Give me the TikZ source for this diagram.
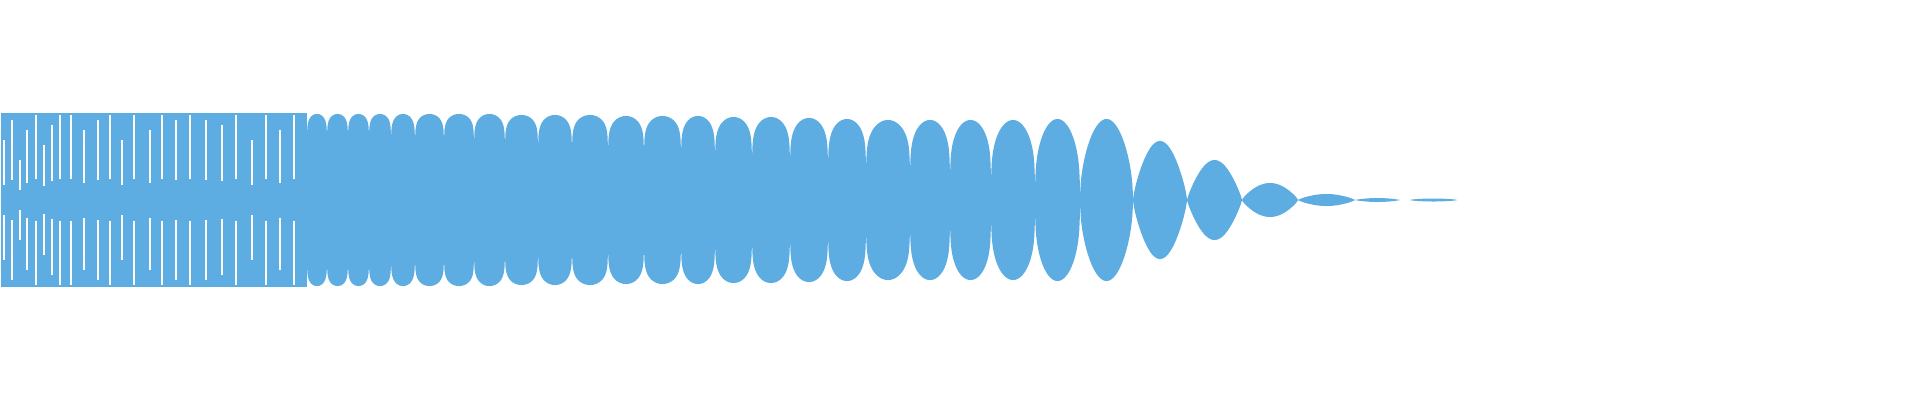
\documentclass[tikz,border=0pt]{standalone}
\definecolor{wave}{RGB}{93,173,226}
\begin{document}
\begin{tikzpicture}[x=1pt,y=-1pt]
\useasboundingbox (0,0) rectangle (1920,400);
% dense noisy start
\fill[wave] (1,113) rectangle (307,287);
\foreach \g/\h in {4/60,12/80,20/40,27/70,36/85,44/55,52/75,60/85,71/85,84/70,98/80,110/85,122/60,134/85,150/70,162/85,176/80,190/85,206/80,222/75,236/85,252/60,266/85,280/70,294/85}{
  \fill[white] (\g-1.2,200-\h) rectangle (\g+1.2,200-\h*0.25);
  \fill[white] (\g-1.2,200+\h*0.25) rectangle (\g+1.2,200+\h);
}
% center band
\fill[wave] (300,193) rectangle (1100,207);
% lobes
\foreach \a/\b/\amp/\p in {
307/327/86/0.06,327/348/86/0.06,348/369/86/0.06,369/391/86/0.06,391/415/86/0.07,
415/444/86/0.07,444/474/86/0.07,474/505/86/0.08,505/538/85/0.08,538/572/85/0.09,
572/608/85/0.09,608/644/84/0.1,644/681/84/0.1,681/715/84/0.11,715/752/83/0.12,
752/790/83/0.13,790/828/82/0.14,828/866/81/0.15,866/910/80/0.17,910/950/80/0.19,
950/991/80/0.22,991/1035/80/0.26,1035/1080/81/0.33,
1080/1133/81/0.5,1133/1187/59/0.75,1187/1242/40/0.85,1242/1298/17/0.8,
1298/1355/6/0.8,1355/1400/2/0.8,1410/1457/1.5/0.6}{
  \fill[wave] (\a,200) -- plot[domain=0.002:0.998,samples=80] ({\a+(\b-\a)*\x},{200-\amp*pow(sin(180*\x),\p)})
   -- (\b,200) -- plot[domain=0.998:0.002,samples=80] ({\a+(\b-\a)*\x},{200+\amp*pow(sin(180*\x),\p)}) -- cycle;
}
\end{tikzpicture}
\end{document}
